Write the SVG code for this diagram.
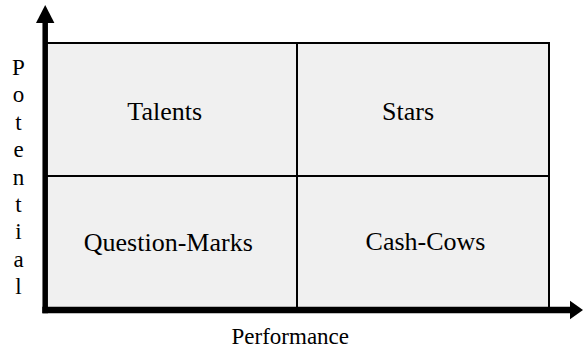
<svg xmlns="http://www.w3.org/2000/svg" width="583" height="349" viewBox="0 0 583 349">
<style>
.q{font-family:"Liberation Serif","Times New Roman",serif;font-size:26px;fill:#000;text-anchor:middle}
.ax{font-family:"Liberation Serif","Times New Roman",serif;font-size:23px;fill:#000;text-anchor:middle}
.cell{fill:#f0f0f0;stroke:#000;stroke-width:2}
.axis{stroke:#000;fill:none}
</style>
<rect width="583" height="349" fill="#fff"/>
<g id="grid">
<rect class="cell" x="45" y="43" width="252" height="133"/>
<rect class="cell" x="297" y="43" width="252" height="133"/>
<rect class="cell" x="45" y="176" width="252" height="134"/>
<rect class="cell" x="297" y="176" width="252" height="134"/>
</g>
<g id="connectors">
<line class="axis" x1="45.2" y1="313.3" x2="45.2" y2="22" stroke-width="5.5"/>
<polygon points="45.2,5 36,23 54.4,23" fill="#000"/>
<line class="axis" x1="42.3" y1="310" x2="571" y2="310" stroke-width="6.5"/>
<polygon points="583,310 570,300.7 570,319.3" fill="#000"/>
</g>
<g id="talents"><text class="q" x="164.7" y="120">Talents</text></g>
<g id="stars"><text class="q" x="408" y="120">Stars</text></g>
<g id="question-marks"><text class="q" x="168.3" y="251">Question-Marks</text></g>
<g id="cash-cows"><text class="q" x="425.5" y="250">Cash-Cows</text></g>
<g id="performance"><text class="ax" x="290.3" y="344">Performance</text></g>
<g id="potential" class="ax">
<text x="18.5" y="75">P</text>
<text x="18.5" y="102.4">o</text>
<text x="18.5" y="129.8">t</text>
<text x="18.5" y="157.2">e</text>
<text x="18.5" y="184.6">n</text>
<text x="18.5" y="212">t</text>
<text x="18.5" y="239.4">i</text>
<text x="18.5" y="266.8">a</text>
<text x="18.5" y="294.2">l</text>
</g>
</svg>
